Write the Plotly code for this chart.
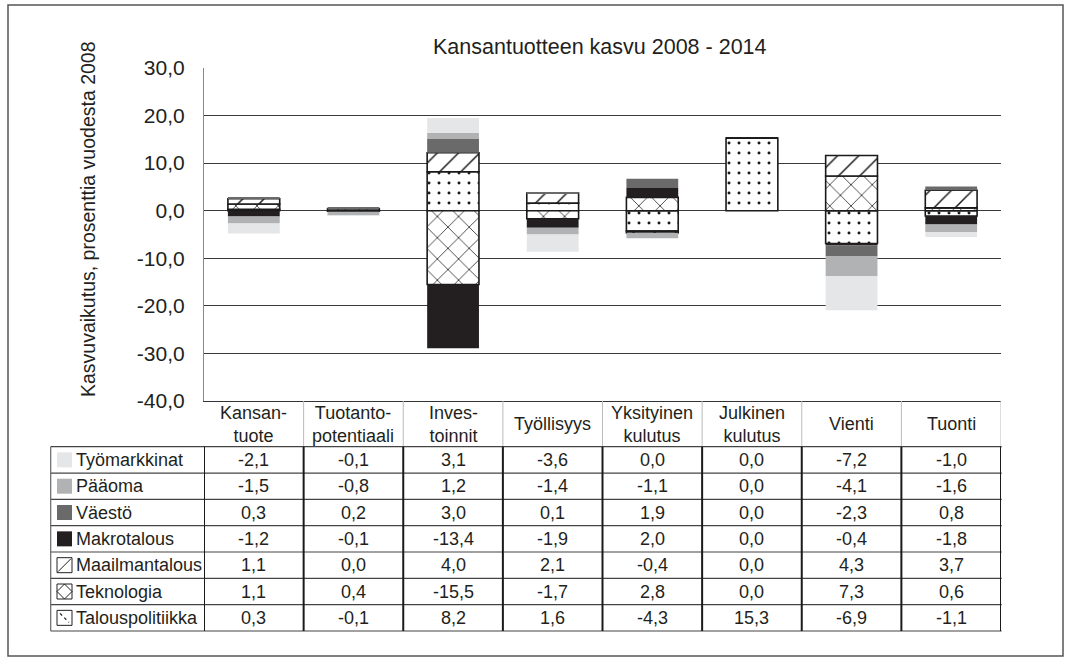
import plotly.graph_objects as go

W, H = 1071, 664
ML, MR, MT, MB = 204, 70, 68, 263
PW, PH = W - ML - MR, H - MT - MB

categories = ["Kansantuote", "Tuotantopotentiaali", "Investoinnit", "Työllisyys",
              "Yksityinen kulutus", "Julkinen kulutus", "Vienti", "Tuonti"]
category_labels = ["Kansan-<br>tuote", "Tuotanto-<br>potentiaali", "Inves-<br>toinnit", "Työllisyys",
                   "Yksityinen<br>kulutus", "Julkinen<br>kulutus", "Vienti", "Tuonti"]

# series in stacking order (first = closest to zero)
talouspolitiikka = [0.3, -0.1, 8.2, 1.6, -4.3, 15.3, -6.9, -1.1]
teknologia = [1.1, 0.4, -15.5, -1.7, 2.8, 0.0, 7.3, 0.6]
maailmantalous = [1.1, 0.0, 4.0, 2.1, -0.4, 0.0, 4.3, 3.7]
makrotalous = [-1.2, -0.1, -13.4, -1.9, 2.0, 0.0, -0.4, -1.8]
vaesto = [0.3, 0.2, 3.0, 0.1, 1.9, 0.0, -2.3, 0.8]
paaoma = [-1.5, -0.8, 1.2, -1.4, -1.1, 0.0, -4.1, -1.6]
tyomarkkinat = [-2.1, -0.1, 3.1, -3.6, 0.0, 0.0, -7.2, -1.0]

series_names = ["Talouspolitiikka", "Teknologia", "Maailmantalous", "Makrotalous",
                "Väestö", "Pääoma", "Työmarkkinat"]
series_values = [talouspolitiikka, teknologia, maailmantalous, makrotalous,
                 vaesto, paaoma, tyomarkkinat]

tick_values = [-40, -30, -20, -10, 0, 10, 20, 30]
tick_labels = ["-40,0", "-30,0", "-20,0", "-10,0", "0,0", "10,0", "20,0", "30,0"]

title_text = "Kansantuotteen kasvu 2008 - 2014"
y_title = "Kasvuvaikutus, prosenttia vuodesta 2008"

FONT = "Liberation Sans, Arial, Helvetica, sans-serif"
TXT = "#231f20"
TABLE_FS = 18
styles = {
    "Talouspolitiikka": dict(kind="pattern", shape=".", size=10, solidity=0.07),
    "Teknologia": dict(kind="pattern", shape="x", size=15, solidity=0.1),
    "Maailmantalous": dict(kind="pattern", shape="/", size=15, solidity=0.1),
    "Makrotalous": dict(kind="solid", color="#231f20"),
    "Väestö": dict(kind="solid", color="#6a6a6b"),
    "Pääoma": dict(kind="solid", color="#b1b2b4"),
    "Työmarkkinat": dict(kind="solid", color="#e5e6e8"),
}


def px_x(p):
    return (p - ML) / PW


def px_y(p):
    return (MT + PH - p) / PH


fig = go.Figure()
for name, vals in zip(series_names, series_values):
    st = styles[name]
    if st["kind"] == "solid":
        marker = dict(color=st["color"], line=dict(width=0))
    else:
        marker = dict(color="white", line=dict(color="#1a1a1a", width=1.6),
                      pattern=dict(shape=st["shape"], fgcolor="#1a1a1a", bgcolor="white",
                                   size=st["size"], solidity=st["solidity"], fillmode="replace"))
    fig.add_trace(go.Bar(x=list(range(len(categories))), y=vals, name=name,
                         marker=marker, showlegend=False))

shapes = []
annotations = []

# outer border
shapes.append(dict(type="rect", xref="paper", yref="paper", x0=px_x(8), x1=px_x(1063),
                   y0=px_y(656), y1=px_y(5), line=dict(color="#555", width=1.5),
                   fillcolor="rgba(0,0,0,0)", layer="above"))

# table geometry
header_top, header_bot = 401, 446.7
row_h = 26.33
n_rows = len(series_names)
table_bot = header_bot + n_rows * row_h
table_left = 50.7

# header labels
for i, lab in enumerate(category_labels):
    annotations.append(dict(x=i, xref="x", y=px_y((header_top + header_bot) / 2 + 0.5), yref="paper",
                            text=lab, showarrow=False, font=dict(size=TABLE_FS, color=TXT, family=FONT),
                            xanchor="center", yanchor="middle"))
# header vertical separators (light)
for i in range(1, len(categories) + 1):
    shapes.append(dict(type="line", xref="x", yref="paper", x0=i - 0.5, x1=i - 0.5,
                       y0=px_y(header_top), y1=px_y(header_bot), line=dict(color="#bbbbbb", width=1)))

# data rows: display order is reverse of stacking order
disp_names = series_names[::-1]
disp_vals = series_values[::-1]
for r, (name, vals) in enumerate(zip(disp_names, disp_vals)):
    top = header_bot + r * row_h
    mid = top + row_h / 2
    for i, v in enumerate(vals):
        annotations.append(dict(x=i, xref="x", y=px_y(mid), yref="paper",
                                text=f"{v:.1f}".replace(".", ","), showarrow=False,
                                font=dict(size=TABLE_FS, color=TXT, family=FONT),
                                xanchor="center", yanchor="middle"))
    annotations.append(dict(x=px_x(73.5), xref="paper", y=px_y(mid), yref="paper", text=name,
                            showarrow=False, font=dict(size=TABLE_FS, color=TXT, family=FONT),
                            xanchor="left", yanchor="middle"))
    # swatch
    sx0, sx1 = 57, 72
    sy0, sy1 = mid - 7.5, mid + 7.5
    st = styles[name]
    if st["kind"] == "solid":
        shapes.append(dict(type="rect", xref="paper", yref="paper", x0=px_x(sx0), x1=px_x(sx1),
                           y0=px_y(sy1), y1=px_y(sy0), fillcolor=st["color"], line=dict(width=0)))
    else:
        shapes.append(dict(type="rect", xref="paper", yref="paper", x0=px_x(sx0), x1=px_x(sx1),
                           y0=px_y(sy1), y1=px_y(sy0), fillcolor="white",
                           line=dict(color="#222", width=1)))
        if st["shape"] == "/":
            shapes.append(dict(type="line", xref="paper", yref="paper", x0=px_x(sx0 + 1), x1=px_x(sx1 - 1),
                               y0=px_y(sy1 - 1), y1=px_y(sy0 + 1), line=dict(color="#222", width=1)))
        elif st["shape"] == "x":
            cx, cy = (sx0 + sx1) / 2, (sy0 + sy1) / 2
            path = (f"M {px_x(sx0)} {px_y(cy)} L {px_x(cx)} {px_y(sy0)} L {px_x(sx1)} {px_y(cy)} "
                    f"L {px_x(cx)} {px_y(sy1)} Z")
            shapes.append(dict(type="path", xref="paper", yref="paper", path=path,
                               line=dict(color="#222", width=1), fillcolor="rgba(0,0,0,0)"))
        else:
            shapes.append(dict(type="line", xref="paper", yref="paper", x0=px_x(sx0 + 3), x1=px_x(sx1 - 3),
                               y0=px_y(sy0 + 3), y1=px_y(sy1 - 3),
                               line=dict(color="#222", width=1.2, dash="dot")))

# horizontal table lines
for r in range(n_rows + 1):
    yy = header_bot + r * row_h
    shapes.append(dict(type="line", xref="paper", yref="paper", x0=px_x(table_left), x1=px_x(1001.7),
                       y0=px_y(yy), y1=px_y(yy), line=dict(color="#444", width=1.2)))
# left border of table
shapes.append(dict(type="line", xref="paper", yref="paper", x0=px_x(table_left), x1=px_x(table_left),
                   y0=px_y(header_bot), y1=px_y(table_bot), line=dict(color="#666", width=1.2)))
# vertical column separators in data area (thick)
for i in range(len(categories) + 1):
    shapes.append(dict(type="line", xref="x", yref="paper", x0=i - 0.5, x1=i - 0.5,
                       y0=px_y(header_bot), y1=px_y(table_bot), line=dict(color="#1a1a1a", width=2)))

# title
annotations.append(dict(x=px_x(600), xref="paper", y=px_y(47), yref="paper", text=title_text,
                        showarrow=False, font=dict(size=21.5, color=TXT, family=FONT),
                        xanchor="center", yanchor="middle"))
# y title
annotations.append(dict(x=px_x(88), xref="paper", y=px_y(219), yref="paper", text=y_title,
                        textangle=-90, showarrow=False, font=dict(size=19.5, color=TXT, family=FONT),
                        xanchor="center", yanchor="middle"))

fig.update_layout(
    width=W, height=H,
    margin=dict(l=ML, r=MR, t=MT, b=MB, pad=0),
    paper_bgcolor="white", plot_bgcolor="white",
    barmode="relative", bargap=0.48,
    font=dict(family=FONT, color=TXT),
    shapes=shapes, annotations=annotations,
    showlegend=False,
)
fig.update_xaxes(range=[-0.5, len(categories) - 0.5], showticklabels=False, showgrid=False,
                 zeroline=False, showline=True, linecolor="#333", linewidth=1.2, ticks="")
fig.update_yaxes(range=[-40, 30], tickvals=tick_values, ticktext=tick_labels,
                 showgrid=True, gridcolor="#3a3a3a", gridwidth=1, zeroline=False,
                 showline=True, linecolor="#888", linewidth=1.2, ticks="",
                 ticklabelstandoff=14, tickfont=dict(size=21, color=TXT, family=FONT))

fig.write_html("out.html", config={"displayModeBar": False},
               post_script="document.body.style.margin='0';document.body.style.overflow='hidden';")
